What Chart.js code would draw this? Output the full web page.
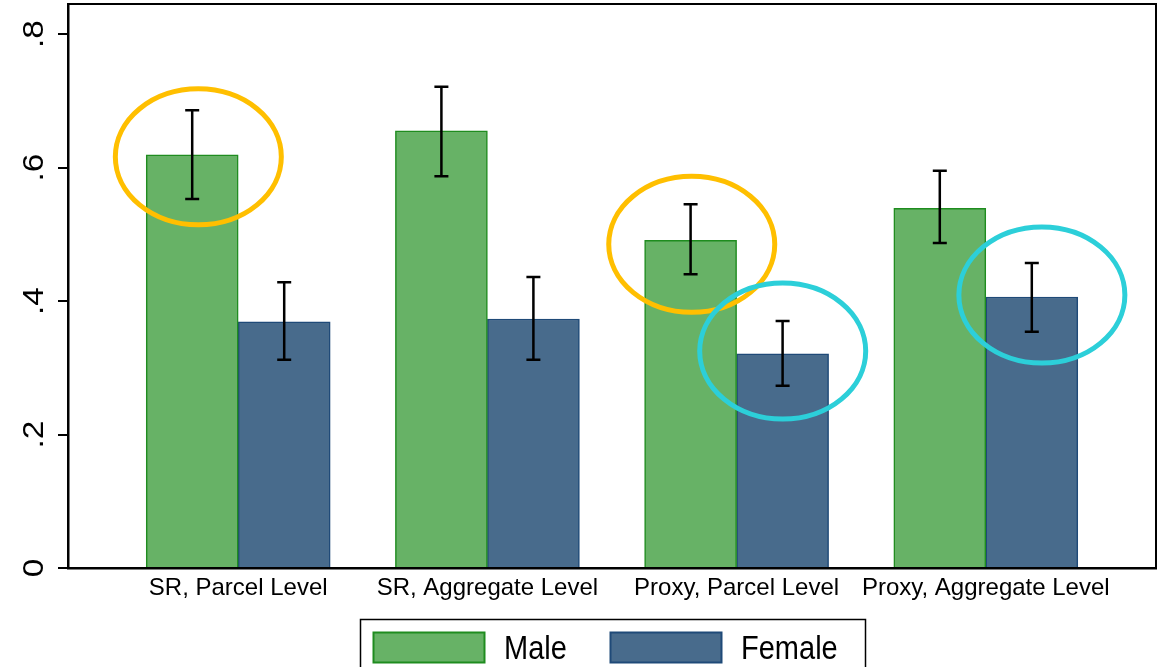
<!DOCTYPE html>
<html>
<head>
<meta charset="utf-8">
<script src="https://cdn.jsdelivr.net/npm/chart.js@4/dist/chart.umd.min.js"></script>
<style>
  html, body { margin: 0; padding: 0; background: #fff; }
  #wrap { width: 1168px; height: 667px; position: relative; }
</style>
</head>
<body>
<div id="wrap"><canvas id="chart"></canvas></div>
<script>
// categories + series
var categories = ['SR, Parcel Level', 'SR, Aggregate Level', 'Proxy, Parcel Level', 'Proxy, Aggregate Level'];
var yTicks = [0, 0.2, 0.4, 0.6, 0.8];
var yTickLabels = ['0', '.2', '.4', '.6', '.8'];

var maleMean = [0.619, 0.655, 0.491, 0.539];
var maleLow  = [0.553, 0.587, 0.440, 0.487];
var maleHigh = [0.686, 0.721, 0.545, 0.595];

var femaleMean = [0.369, 0.373, 0.321, 0.406];
var femaleLow  = [0.312, 0.312, 0.273, 0.354];
var femaleHigh = [0.428, 0.436, 0.370, 0.457];

// highlight ellipses: x in category units, y value, colour
var highlightX = [0.84, 2.82, 3.185, 4.225];
var highlightY = [0.616, 0.485, 0.325, 0.409];
var highlightColor = ['#ffbf00', '#ffbf00', '#2ccfd9', '#2ccfd9'];

var GREEN = '#67b266', GREEN_EDGE = '#1f8c1f';
var BLUE = '#486b8c', BLUE_EDGE = '#1f4a78';

function pts(vals) {
  return vals.map(function (v, i) { return { x: i + 1, y: v }; });
}

var errorBars = {
  id: 'errorBars',
  afterDatasetsDraw: function (chart) {
    var ctx = chart.ctx;
    var sets = [[maleLow, maleHigh], [femaleLow, femaleHigh]];
    var y = chart.scales.y;
    ctx.save();
    ctx.strokeStyle = '#000';
    ctx.lineWidth = 2.5;
    sets.forEach(function (s, di) {
      var meta = chart.getDatasetMeta(di);
      meta.data.forEach(function (bar, i) {
        var x = bar.x, y1 = y.getPixelForValue(s[0][i]), y2 = y.getPixelForValue(s[1][i]);
        ctx.beginPath();
        ctx.moveTo(x, y1); ctx.lineTo(x, y2);
        ctx.moveTo(x - 7, y1); ctx.lineTo(x + 7, y1);
        ctx.moveTo(x - 7, y2); ctx.lineTo(x + 7, y2);
        ctx.stroke();
      });
    });
    // highlight ellipses
    ctx.lineWidth = 5;
    highlightX.forEach(function (hx, i) {
      ctx.beginPath();
      ctx.strokeStyle = highlightColor[i];
      ctx.ellipse(chart.scales.x.getPixelForValue(hx), y.getPixelForValue(highlightY[i]), 83, 68, 0, 0, 2 * Math.PI);
      ctx.stroke();
    });
    ctx.restore();
  }
};

var frameAndLabels = {
  id: 'frameAndLabels',
  afterDraw: function (chart) {
    var ctx = chart.ctx, a = chart.chartArea, y = chart.scales.y;
    ctx.save();
    // top and right frame
    ctx.strokeStyle = '#000';
    ctx.lineWidth = 2;
    ctx.beginPath();
    ctx.moveTo(a.left, a.top); ctx.lineTo(a.right, a.top); ctx.lineTo(a.right, a.bottom);
    ctx.stroke();

    // rotated y tick labels
    ctx.fillStyle = '#000';
    ctx.font = '29px "Liberation Sans", Arial, sans-serif';
    ctx.textAlign = 'center';
    ctx.textBaseline = 'alphabetic';
    yTicks.forEach(function (v, i) {
      ctx.save();
      ctx.translate(43, y.getPixelForValue(v));
      ctx.rotate(-Math.PI / 2);
      ctx.scale(1.15, 1);
      ctx.fillText(yTickLabels[i], 0, 0);
      ctx.restore();
    });

    // legend box
    ctx.lineWidth = 1.5;
    ctx.strokeRect(360.5, 619.5, 505, 60);
    var items = [['Male', GREEN, GREEN_EDGE, 373], ['Female', BLUE, BLUE_EDGE, 610]];
    ctx.font = '29px "Liberation Sans", Arial, sans-serif';
    ctx.textAlign = 'left';
    items.forEach(function (it) {
      ctx.fillStyle = it[1];
      ctx.fillRect(it[3], 632, 111, 30);
      ctx.strokeStyle = it[2];
      ctx.lineWidth = 2;
      ctx.strokeRect(it[3] + 0.5, 632.5, 111, 30);
      ctx.fillStyle = '#000';
      ctx.save();
      ctx.translate(it[3] + 131, 659);
      ctx.scale(1, 1.12);
      ctx.fillText(it[0], 0, 0);
      ctx.restore();
    });
    ctx.restore();
  }
};

new Chart(document.getElementById('chart'), {
  type: 'bar',
  data: {
    datasets: [
      { label: 'Male', data: pts(maleMean), backgroundColor: GREEN, borderColor: GREEN_EDGE, borderWidth: 1.5 },
      { label: 'Female', data: pts(femaleMean), backgroundColor: BLUE, borderColor: BLUE_EDGE, borderWidth: 1.5 }
    ]
  },
  options: {
    responsive: true, maintainAspectRatio: false,
    animation: false,
    layout: { padding: { top: 4, right: 12, left: 0, bottom: 0 } },
    barThickness: 92,
    plugins: { legend: { display: false }, tooltip: { enabled: false } },
    scales: {
      x: {
        type: 'linear', min: 0.317, max: 4.683, offset: false,
        afterBuildTicks: function (s) { s.ticks = categories.map(function (c, i) { return { value: i + 1 }; }); },
        afterFit: function (s) { s.height = 99; },
        grid: { display: false, drawTicks: false, offset: false },
        border: { display: true, color: '#000', width: 2.5 },
        ticks: {
          color: '#000', padding: 6, maxRotation: 0, autoSkip: false,
          font: { family: '"Liberation Sans", Arial, sans-serif', size: 24 },
          callback: function (v) { return categories[v - 1] || ''; }
        }
      },
      y: {
        min: 0, max: 0.845,
        afterBuildTicks: function (s) { s.ticks = yTicks.map(function (v) { return { value: v }; }); },
        afterFit: function (s) { s.width = 68; },
        grid: { drawOnChartArea: false, drawTicks: true, tickLength: 10, color: '#000', lineWidth: 2 },
        border: { display: true, color: '#000', width: 2.5 },
        ticks: { display: false }
      }
    }
  },
  plugins: [errorBars, frameAndLabels]
});
</script>
</body>
</html>
